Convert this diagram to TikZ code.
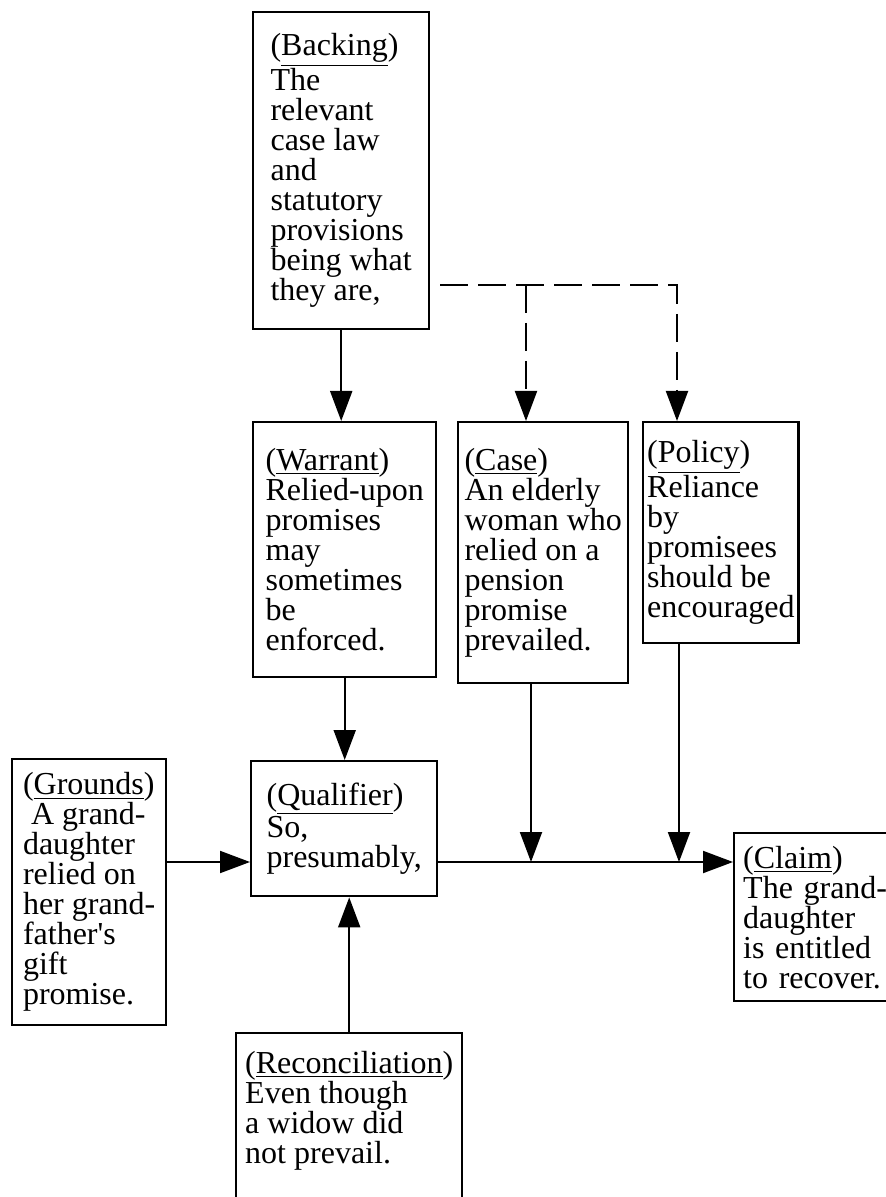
\documentclass[tikz,border=0pt]{standalone}
\usepackage{fontspec}
\setmainfont{Liberation Serif}
\usetikzlibrary{arrows.meta}

\begin{document}
\begin{tikzpicture}[x=0.5pt, y=-0.5pt, >={Triangle[length=15pt,width=11pt]},
  box/.style={draw, line width=1.2pt, anchor=north west, align=left, inner sep=2pt,
    font=\fontsize{16}{15}\selectfont},
  link/.style={line width=1pt},
  dashlink/.style={line width=1pt, dash pattern=on 14pt off 5pt}]
\useasboundingbox (0,0) rectangle (886,1197);

\node[box, minimum width=88pt, minimum height=158.5pt] (back) at (252,11) {(\underline{Backing})\\The\\relevant\\case law\\and\\statutory\\provisions\\being what\\they are,};
\node[box, minimum width=91.5pt, minimum height=127.5pt] (warr) at (252,421) {(\underline{Warrant})\\Relied-upon\\promises\\may\\sometimes\\be\\enforced.};
\node[box, minimum width=85pt, minimum height=130.5pt] (case) at (457,421) {(\underline{Case})\\An elderly\\woman who\\relied on a\\pension\\promise\\prevailed.};
\node[box, minimum width=75pt, minimum height=110.5pt] (pol) at (642,421) {(\underline{Policy})\\Reliance\\by\\promisees\\should be\\encouraged};
\node[box, minimum width=77pt, minimum height=133pt] (grd) at (11,758) {(\underline{Grounds})\\\ A grand-\\daughter\\relied on\\her grand-\\father\textquotesingle s\\gift\\promise.};
\node[box, minimum width=93pt, minimum height=67.5pt] (qual) at (250,760) {(\underline{Qualifier})\\So,\\presumably,};
\node[box, text width=110pt, inner xsep=4.5pt, minimum height=84pt] (clm) at (733,832) {(\underline{Claim})\\The grand-\\daughter\\is entitled\\to recover.};
\node[box, minimum width=113pt, inner ysep=9pt] (rec) at (235,1032) {(\underline{Reconciliation})\\Even though\\a widow did\\not prevail.\\[40pt]\mbox{}};

\coordinate (m) at (0,862);
\coordinate (dstart) at (440,285);
\coordinate (casein) at ([xshift=34.5pt]case.north west);
\coordinate (polin) at ([xshift=17.5pt]pol.north west);
\coordinate (caseout) at ([xshift=37pt]case.south west);
\coordinate (polout) at ([xshift=18.5pt]pol.south west);

\draw[->, link] (back.south) -- (back.south |- warr.north);
\draw[->, link] (warr.south) -- (warr.south |- qual.north);
\draw[->, link] (rec.north) -- (rec.north |- qual.south);
\draw[->, link] (grd.east |- m) -- (qual.west |- m);
\draw[->, link] (qual.east |- m) -- (clm.west |- m);
\draw[->, link] (caseout) -- (caseout |- m);
\draw[->, link] (polout) -- (polout |- m);
\draw[->, dashlink] (dstart) -- (dstart -| polin) -- (polin);
\draw[->, dashlink] (dstart -| casein) -- (casein);
\end{tikzpicture}
\end{document}
